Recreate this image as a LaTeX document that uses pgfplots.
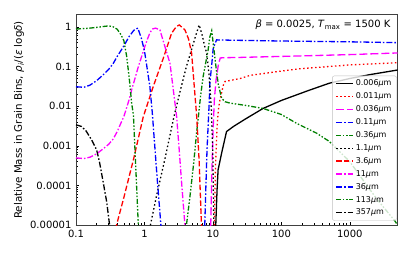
\documentclass[border=0pt]{standalone}
\usepackage{fontspec}
\setmainfont{DejaVu Sans}
\usepackage{pgfplots}
\pgfplotsset{compat=1.18}
\definecolor{mgreen}{rgb}{0,0.5,0}
\definecolor{mmag}{rgb}{1,0,1}
\tikzset{
  mdot/.style={dash pattern=on 1.5pt off 2.5pt},
  mdash/.style={dash pattern=on 5.5pt off 2.4pt},
  mlongdash/.style={dash pattern=on 8pt off 3pt},
  mdashdot/.style={dash pattern=on 6pt off 2pt on 1.5pt off 2pt},
  mdashdotdot/.style={dash pattern=on 5pt off 1.8pt on 1.5pt off 1.8pt on 1.5pt off 1.8pt},
}
\begin{document}
\begin{tikzpicture}
\begin{axis}[
  scale only axis, width=321.7pt, height=210.8pt,
  xmode=log, ymode=log,
  xmin=0.1, xmax=5000, ymin=1e-5, ymax=2.05,
  xtick={0.1,1,10,100,1000}, xticklabels={0.1,1,10,100,1000},
  ytick={1e-5,1e-4,1e-3,1e-2,1e-1,1}, yticklabels={0.00001,0.0001,0.001,0.01,0.1,1},
  tick align=inside, xtick pos=bottom, ytick pos=left,
  major tick length=3.5pt, minor tick length=2pt,
  tick style={black, line width=0.6pt},
  axis line style={black!75, line width=0.8pt},
  ticklabel style={font=\fontsize{10}{12}\selectfont},
  xticklabel style={yshift=-1pt},
  yticklabel style={xshift=-1pt},
  ylabel={Relative Mass in Grain Bins, \textit{ρ}\textsubscript{\textit{i}}/(\textit{ε} log\textit{δ})},
  ylabel style={font=\fontsize{10.3}{12}\selectfont, at={(axis description cs:-0.177,0.5)}, anchor=center},
  legend cell align=left,
  legend style={at={(rel axis cs:0.997,0.022)}, anchor=south east,
    font=\fontsize{8}{9}\selectfont, draw=black!25, rounded corners=2pt,
    fill=white, fill opacity=0.8, text opacity=1, row sep=1.5pt, inner xsep=3pt, inner ysep=2pt},
  every axis plot/.append style={line width=1.3pt},
]
% 0.006 um
\addplot[black] coordinates {(10.9,0.000005)(11.0,0.00001)(11.5,0.00008)(11.9,0.00025)(13.5,0.0007)(15.8,0.0023)(20,0.0031)(30,0.0048)(54,0.0088)(100,0.014)(250,0.025)(500,0.038)(1000,0.05)(2000,0.063)(5000,0.082)};
\addlegendentry{0.006\textit{μ}m}
% 0.011 um
\addplot[red, mdot] coordinates {(10.4,0.000005)(10.5,0.00001)(10.9,0.0003)(11.5,0.003)(12,0.008)(12.6,0.014)(14.2,0.034)(15,0.042)(25,0.05)(35,0.06)(100,0.077)(186,0.088)(1000,0.11)(5000,0.125)};
\addlegendentry{0.011\textit{μ}m}
% 0.036 um
\addplot[mmag, mlongdash] coordinates {(9.2,0.000005)(9.3,0.00001)(9.7,0.0003)(10.1,0.003)(10.5,0.015)(11.1,0.045)(12,0.11)(12.8,0.165)(15,0.167)(25,0.17)(100,0.18)(1000,0.2)(5000,0.22)};
\addlegendentry{0.036\textit{μ}m}
% 0.11 um
\addplot[blue, mdashdot] coordinates {(7.5,0.000005)(7.6,0.00001)(7.9,0.0001)(8.2,0.0008)(8.8,0.011)(9.04,0.04)(9.6,0.11)(10.1,0.29)(11.3,0.47)(20,0.46)(100,0.44)(1000,0.42)(5000,0.40)};
\addlegendentry{0.11\textit{μ}m}
% 0.36 um
\addplot[mgreen, mdashdotdot] coordinates {(4.0,0.000005)(4.1,0.00001)(4.6,0.00005)(5.2,0.00033)(5.8,0.0023)(6.1,0.005)(6.6,0.018)(7.2,0.056)(8.5,0.26)(9.0,0.55)(9.6,0.8)(10.2,0.33)(11.3,0.074)(12,0.035)(13.4,0.016)(15,0.013)(17.7,0.012)(30,0.0105)(54,0.0088)(100,0.0062)(167,0.0037)(326,0.0021)(500,0.0013)(1000,0.0004)(1650,0.00012)(2500,0.000045)(4530,0.000013)(5000,0.00001)};
\addlegendentry{0.36\textit{μ}m}
% 1.1 um
\addplot[black, mdot] coordinates {(1.2,0.000005)(1.22,0.00001)(1.5,0.000055)(2.0,0.00049)(2.7,0.0055)(3.3,0.023)(4.1,0.1)(5.0,0.31)(5.7,0.66)(6.3,1.12)(7.0,0.6)(7.6,0.32)(8.1,0.22)(8.8,0.06)(9.5,0.008)(10.0,0.0005)(10.3,0.00001)(10.4,0.000005)};
\addlegendentry{1.1\textit{μ}m}
% 3.6 um
\addplot[red, mdash] coordinates {(0.38,0.000005)(0.39,0.00001)(0.5,0.00005)(0.7,0.0005)(0.96,0.0054)(1.34,0.031)(1.88,0.16)(2.49,0.69)(2.9,1.0)(3.22,1.12)(3.9,0.84)(4.4,0.5)(4.88,0.22)(5.3,0.037)(5.8,0.0054)(6.3,0.0004)(6.8,0.00001)(6.9,0.000005)};
\addlegendentry{3.6\textit{μ}m}
% 11 um
\addplot[mmag, mdashdot] coordinates {(0.1,0.0005)(0.13,0.00048)(0.16,0.00052)(0.2,0.00063)(0.25,0.00085)(0.3,0.0011)(0.35,0.0015)(0.4,0.0023)(0.46,0.004)(0.5,0.0055)(0.6,0.015)(0.65,0.026)(0.7,0.04)(0.8,0.09)(0.9,0.17)(1.0,0.3)(1.1,0.48)(1.2,0.7)(1.3,0.88)(1.45,0.93)(1.68,0.84)(2.0,0.31)(2.36,0.12)(2.6,0.032)(2.95,0.0055)(3.2,0.0009)(3.5,0.00011)(3.9,0.00001)(4.0,0.000005)};
\addlegendentry{11\textit{μ}m}
% 36 um
\addplot[blue, mdashdot] coordinates {(0.1,0.031)(0.13,0.030)(0.16,0.034)(0.2,0.044)(0.25,0.062)(0.3,0.085)(0.35,0.12)(0.4,0.18)(0.5,0.33)(0.6,0.58)(0.7,0.82)(0.8,0.93)(0.9,0.52)(1.0,0.25)(1.1,0.085)(1.2,0.031)(1.3,0.007)(1.42,0.0009)(1.55,0.00012)(1.74,0.00001)(1.8,0.000005)};
\addlegendentry{36\textit{μ}m}
% 113 um
\addplot[mgreen, mdashdotdot] coordinates {(0.1,0.88)(0.15,0.92)(0.2,0.97)(0.25,1.02)(0.3,1.06)(0.35,1.0)(0.4,0.87)(0.45,0.65)(0.5,0.45)(0.55,0.18)(0.6,0.05)(0.65,0.012)(0.69,0.006)(0.75,0.00024)(0.81,0.000012)(0.83,0.000005)};
\addlegendentry{113\textit{μ}m}
% 357 um
\addplot[black, mdashdot] coordinates {(0.1,0.0034)(0.12,0.0031)(0.14,0.0024)(0.17,0.0014)(0.2,0.0008)(0.22,0.0004)(0.25,0.00012)(0.28,0.00004)(0.31,0.00001)(0.33,0.000005)};
\addlegendentry{357\textit{μ}m}
\node[anchor=base east, font=\fontsize{10}{12}\selectfont, inner sep=0pt] at (rel axis cs:0.978,0.938) {\textit{β} = 0.0025, \textit{T}\textsubscript{max} = 1500 K};
\end{axis}
\pgfresetboundingbox
\path[use as bounding box] (-76pt,-27.7pt) rectangle (333pt,225.3pt);
\end{tikzpicture}
\end{document}
